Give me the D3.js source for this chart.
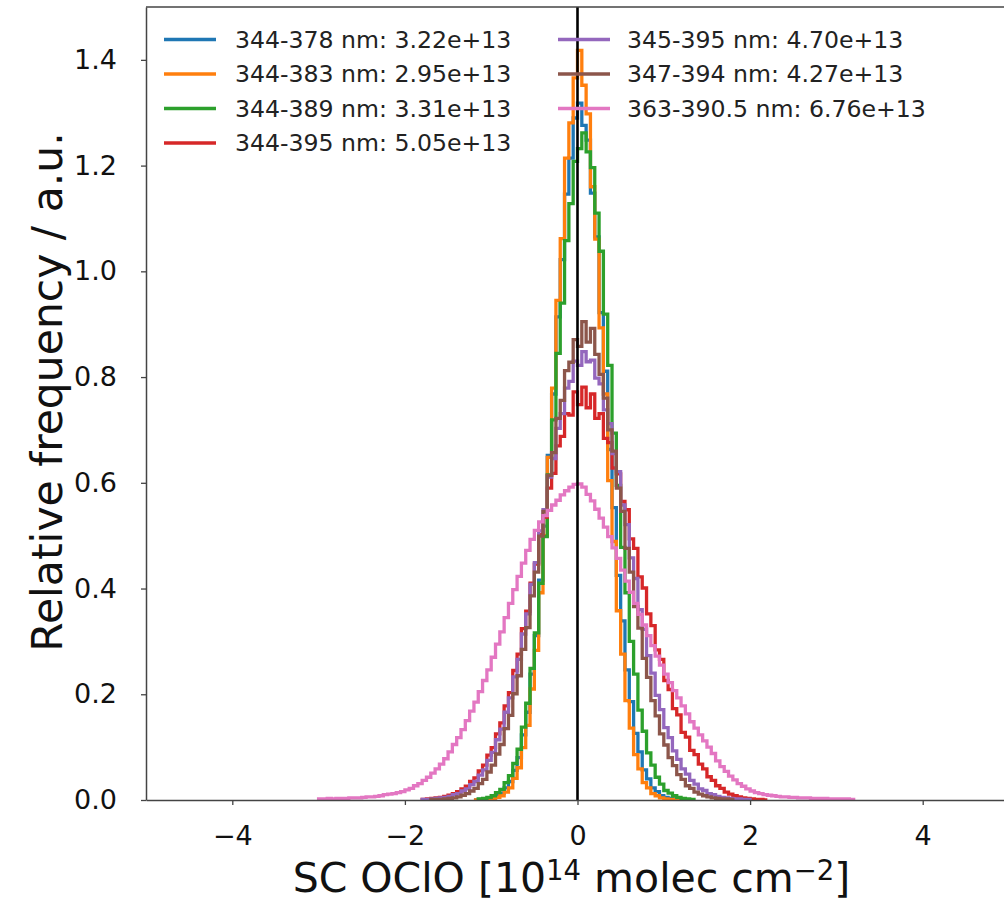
<!DOCTYPE html>
<html><head><meta charset="utf-8">
<script src="https://cdn.jsdelivr.net/npm/d3@7"></script>
<style>body{margin:0;background:#fff}svg{display:block}text{font-family:"DejaVu Sans",sans-serif}</style>
</head><body><svg id="c" width="1004" height="902"></svg>
<script>
// ---------------- data ----------------
const binWidth = 0.05;
const seriesLabels = ["344-378 nm: 3.22e+13","344-383 nm: 2.95e+13","344-389 nm: 3.31e+13","344-395 nm: 5.05e+13","345-395 nm: 4.70e+13","347-394 nm: 4.27e+13","363-390.5 nm: 6.76e+13"];
const seriesStarts = [-1.2, -1.2, -1.15, -1.8, -1.8, -1.7, -3.0];
const blueVals = [0.000,0.001,0.001,0.003,0.004,0.009,0.013,0.023,0.035,0.056,0.080,0.123,0.166,0.238,0.311,0.416,0.518,0.652,0.768,0.914,1.022,1.146,1.214,1.290,1.318,1.276,1.248,1.148,1.065,0.922,0.811,0.663,0.553,0.425,0.339,0.246,0.186,0.126,0.091,0.057,0.040,0.023,0.016,0.008,0.005,0.003,0.002,0.001,0.000,0.000];
const orangeVals = [0.000,0.000,0.001,0.001,0.002,0.005,0.008,0.015,0.023,0.041,0.061,0.099,0.141,0.210,0.283,0.392,0.500,0.648,0.779,0.945,1.062,1.214,1.281,1.366,1.418,1.352,1.298,1.160,1.061,0.893,0.768,0.604,0.489,0.358,0.276,0.188,0.136,0.086,0.059,0.033,0.023,0.012,0.008,0.004,0.002,0.001,0.001,0.000,0.000,0.000];
const greenVals = [0.002,0.003,0.005,0.008,0.014,0.020,0.033,0.046,0.069,0.096,0.138,0.183,0.249,0.316,0.410,0.498,0.615,0.719,0.845,0.940,1.058,1.128,1.208,1.232,1.262,1.226,1.196,1.110,1.038,0.919,0.822,0.694,0.595,0.478,0.392,0.300,0.238,0.170,0.130,0.089,0.066,0.043,0.030,0.018,0.013,0.008,0.005,0.003,0.002,0.001];
const redVals = [0.001,0.002,0.003,0.004,0.005,0.007,0.009,0.012,0.016,0.021,0.026,0.035,0.042,0.055,0.066,0.085,0.099,0.125,0.146,0.178,0.203,0.245,0.276,0.324,0.357,0.410,0.446,0.502,0.535,0.590,0.618,0.670,0.688,0.731,0.728,0.772,
  0.748,0.781,0.742,0.768,0.722,0.731,0.684,0.676,0.628,0.617,0.565,0.549,0.494,0.476,0.422,0.401,0.352,0.330,0.284,0.266,0.226,0.209,0.173,0.161,0.128,0.119,0.094,0.086,0.068,0.059,0.044,0.037,0.027,0.022,0.015,0.011,0.008,0.006,0.004,0.003,0.002,0.001,0.001,0.000];
const purpleVals = [0.001,0.001,0.002,0.003,0.004,0.005,0.007,0.010,0.012,0.017,0.021,0.029,0.035,0.047,0.057,0.075,0.090,0.114,0.134,0.166,0.193,0.233,0.266,0.314,0.352,0.408,0.449,0.509,0.549,0.611,0.646,0.703,0.731,0.779,0.792,0.830,0.822,0.848,0.829,0.832,0.798,0.787,0.738,0.712,0.655,0.621,0.558,0.521,0.458,0.419,0.360,0.323,0.273,0.240,0.198,0.171,0.137,0.118,0.093,0.077,0.059,0.049,0.037,0.030,0.021,0.018,0.012,0.010,0.007,0.005,0.004,0.003,0.002,0.002,0.001,0.001];
const brownVals = [0.001,0.001,0.001,0.002,0.003,0.004,0.006,0.009,0.012,0.017,0.022,0.031,0.039,0.053,0.066,0.087,0.105,0.135,0.160,0.201,0.235,0.285,0.326,0.386,0.431,0.499,0.546,0.614,0.657,0.722,0.756,0.812,0.828,0.871,0.858,0.905,0.866,0.892,0.843,0.805,0.760,0.700,0.660,0.590,0.546,0.476,0.431,0.366,0.325,0.268,0.232,0.188,0.159,0.125,0.104,0.080,0.065,0.048,0.039,0.027,0.022,0.015,0.011,0.008,0.006,0.004,0.003,0.002,0.002,0.001];
const pinkVals = [0.002,0.002,0.003,0.002,0.003,0.003,0.003,0.004,0.004,0.004,0.005,0.006,0.006,0.007,0.008,0.010,0.011,0.012,0.014,0.016,0.019,0.022,0.027,0.031,0.037,0.043,0.051,0.059,0.068,0.078,0.091,0.105,0.118,0.133,0.150,0.168,0.185,0.205,0.226,0.246,0.270,0.295,0.318,0.345,0.372,0.398,0.423,0.448,0.472,0.493,0.510,0.526,0.538,0.548,0.558,0.567,0.577,0.585,0.592,0.597,
  0.598,0.592,0.578,0.566,0.550,0.533,0.516,0.498,0.477,0.457,0.435,0.414,0.393,0.372,0.351,0.331,0.311,0.292,0.272,0.255,0.238,0.222,0.207,0.193,0.178,0.163,0.148,0.136,0.123,0.112,0.100,0.088,0.074,0.063,0.054,0.045,0.038,0.031,0.026,0.021,0.017,0.014,0.012,0.010,0.009,0.008,0.007,0.006,0.006,0.005,0.005,0.004,0.004,0.004,0.003,0.003,0.003,0.003,0.002,0.002,0.002,0.002,0.002,0.001];
const seriesValues = [blueVals, orangeVals, greenVals, redVals, purpleVals, brownVals, pinkVals];
const seriesColors = ["#1f77b4","#ff7f0e","#2ca02c","#d62728","#9467bd","#8c564b","#e377c2"];
const xTicks = [-4, -2, 0, 2, 4];
const yTicks = [0, 0.2, 0.4, 0.6, 0.8, 1.0, 1.2, 1.4];
const xDomain = [-5, 5];
const yDomain = [0, 1.5];

// ---------------- drawing ----------------
const svg = d3.select("#c");
const L = 146, R = 1009, T = 7, B = 800;
const x = d3.scaleLinear().domain(xDomain).range([L, R]);
const y = d3.scaleLinear().domain(yDomain).range([B, T]);

svg.append("defs").append("clipPath").attr("id","clip")
  .append("rect").attr("x",L).attr("y",T).attr("width",R-L).attr("height",B-T);

const line = d3.line().x(d=>x(d[0])).y(d=>y(d[1])).curve(d3.curveStepAfter);
const plot = svg.append("g").attr("clip-path","url(#clip)");
seriesValues.forEach((vals,k)=>{
  const s = seriesStarts[k], n = vals.length;
  const pts = [[s,0]];
  vals.forEach((v,i)=>pts.push([s+i*binWidth, v]));
  pts.push([s+n*binWidth, vals[n-1]]);
  pts.push([s+n*binWidth, 0]);
  plot.append("path").attr("d", line(pts)).attr("fill","none")
    .attr("stroke", seriesColors[k]).attr("stroke-width",3.3).attr("stroke-linejoin","miter");
});
// vertical zero line
plot.append("line").attr("x1",x(0)).attr("x2",x(0)).attr("y1",y(yDomain[1])).attr("y2",y(0))
  .attr("stroke","#000").attr("stroke-width",2.6);

// axes
const spine = "#444";
const xAxis = d3.axisBottom(x).tickValues(xTicks).tickSize(5).tickSizeOuter(0).tickPadding(21)
  .tickFormat(d3.format("d"));
const gx = svg.append("g").attr("transform",`translate(0,${B})`).call(xAxis);
const yAxis = d3.axisLeft(y).tickValues(yTicks).tickSize(5).tickSizeOuter(0).tickPadding(24)
  .tickFormat(d3.format(".1f"));
const gy = svg.append("g").attr("transform",`translate(${L},0)`).call(yAxis);
[gx,gy].forEach(g=>{
  g.select(".domain").attr("stroke",spine).attr("stroke-width",1.5);
  g.selectAll(".tick line").attr("stroke",spine).attr("stroke-width",1.3);
  g.selectAll(".tick text").attr("fill","#111").style("font-size","27px").style("font-family","DejaVu Sans");
});
svg.append("line").attr("x1",L).attr("x2",R).attr("y1",T).attr("y2",T).attr("stroke",spine).attr("stroke-width",1.5);
svg.append("line").attr("x1",R).attr("x2",R).attr("y1",T).attr("y2",B).attr("stroke",spine).attr("stroke-width",1.5);

// axis labels
svg.append("text").attr("transform","translate(62,392) rotate(-90)").attr("text-anchor","middle")
  .style("font-size","42.5px").attr("fill","#111").text("Relative frequency / a.u.");
const xl = svg.append("text").attr("x",(L+R)/2 - 6).attr("y",891.5).attr("text-anchor","middle")
  .style("font-size","41px").attr("fill","#111");
xl.append("tspan").text("SC OClO [10");
xl.append("tspan").attr("dy",-12).style("font-size","27.5px").text("14");
xl.append("tspan").attr("dy",12).text(" molec cm");
xl.append("tspan").attr("dy",-12).style("font-size","27.5px").text("\u22122");
xl.append("tspan").attr("dy",12).text("]");

// legend
const rows = [39.5, 74, 108.5, 143];
const cols = [{x1:164,x2:216,tx:235},{x1:558,x2:610,tx:627}];
seriesLabels.forEach((lab,k)=>{
  const c = cols[k<4?0:1], r = rows[k<4?k:k-4];
  svg.append("line").attr("x1",c.x1).attr("x2",c.x2).attr("y1",r).attr("y2",r)
    .attr("stroke",seriesColors[k]).attr("stroke-width",3.3);
  svg.append("text").attr("x",c.tx).attr("y",r).attr("dy","0.36em")
    .style("font-size","23.6px").attr("fill","#222").text(lab);
});
</script></body></html>
